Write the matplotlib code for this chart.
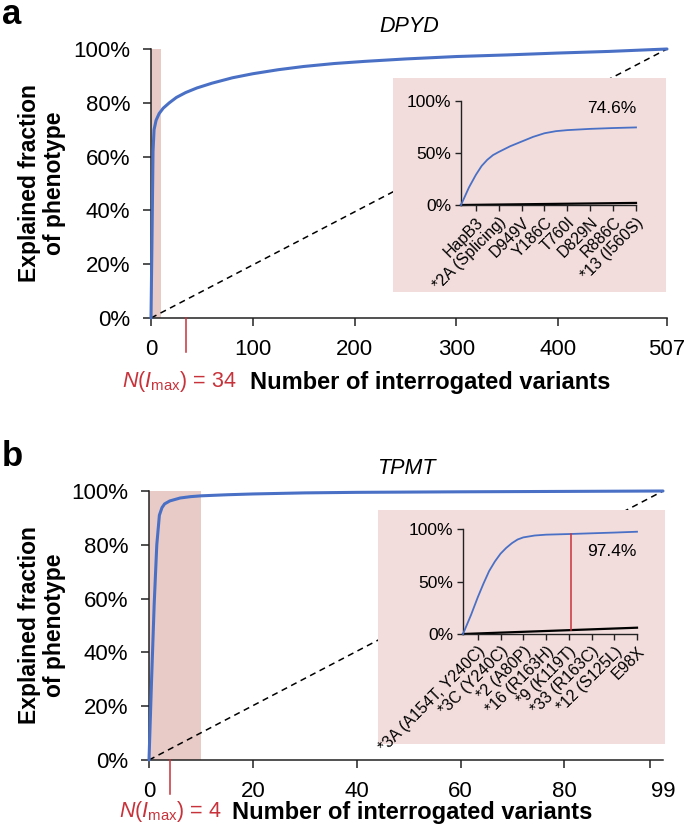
import matplotlib
matplotlib.use("Agg")
import matplotlib.pyplot as plt
import numpy as np

plt.rcParams['font.family'] = ['Liberation Sans', 'DejaVu Sans']
plt.rcParams['mathtext.fontset'] = 'custom'
plt.rcParams['mathtext.rm'] = 'Liberation Sans'
plt.rcParams['mathtext.it'] = 'Liberation Sans:italic'

# ---------------- data ----------------
# Panel a (DPYD)
a_x = [0, 1, 2, 3, 5, 8, 12, 18, 25, 34, 45, 60, 80, 100, 125, 150, 180, 210, 250, 300, 350, 400, 450, 507]
a_y = [0, 30, 62, 70, 73.5, 76, 78, 80, 82, 83.8, 85.5, 87.3, 89.3, 90.8, 92.3, 93.5, 94.6, 95.4, 96.3, 97.2, 97.8, 98.5, 99.1, 100]
a_total = 507
a_nimax = 34
a_shade = 10
a_xticks = [0, 100, 200, 300, 400, 507]

a_inset_labels = ["HapB3", "*2A (Splicing)", "D949V", "Y186C", "T760I", "D829N", "R886C", "*13 (I560S)"]
a_inset_x = [0.35, 0.7, 1, 1.25, 1.5, 1.75, 2, 2.5, 3, 3.5, 4, 4.5, 5, 6, 7, 8]
a_inset_y = [0, 17, 29, 37.5, 43.5, 48, 51, 56.5, 61, 65.5, 69, 71, 72, 73.2, 74.0, 74.6]
a_inset_base = [0, 2]
a_inset_final = "74.6%"

# Panel b (TPMT)
b_x = [0, 0.5, 1, 1.5, 2, 2.5, 3, 4, 6, 8, 10, 15, 20, 30, 40, 60, 80, 99]
b_y = [0, 30, 58, 80, 91, 93.8, 95.2, 96.3, 97.4, 97.9, 98.2, 98.6, 98.9, 99.3, 99.5, 99.7, 99.85, 100]
b_total = 99
b_nimax = 4
b_shade = 10
b_xticks = [0, 20, 40, 60, 80, 96.5]

b_inset_labels = ["*3A (A154T, Y240C)", "*3C (Y240C)", "*2 (A80P)", "*16 (R163H)", "*9 (K119T)",
                  "*33 (R163C)", "*12 (S125L)", "E98X"]
b_inset_x = [0.35, 0.7, 1, 1.25, 1.5, 1.75, 2, 2.25, 2.5, 2.75, 3, 3.5, 4, 5, 6, 7, 8]
b_inset_y = [0, 18, 35, 48, 60, 69, 76.5, 82, 86.5, 90, 92, 93.8, 94.6, 95.2, 95.9, 96.6, 97.4]
b_inset_base = [0, 6]
b_inset_final = "97.4%"
b_inset_marker = 5.1

# ---------------- style ----------------
BLUE = "#4a70c6"
RED = "#c8323a"
SHADE = "#e8cbc7"
BOX = "#f2dddc"
SPINE = "#222222"

W, H = 685, 832
fig = plt.figure(figsize=(W / 100, H / 100), dpi=100)


def fr(x0, y0, x1, y1):
    return [x0 / W, 1 - y1 / H, (x1 - x0) / W, (y1 - y0) / H]


def style_main(ax):
    for s in ["top", "right"]:
        ax.spines[s].set_visible(False)
    for s in ["left", "bottom"]:
        ax.spines[s].set_color(SPINE)
        ax.spines[s].set_linewidth(1.1)
    ax.tick_params(direction="out", length=6, width=1.1, color=SPINE, labelsize=16, pad=9)
    ax.set_ylim(0, 100)
    ax.set_yticks([0, 20, 40, 60, 80, 100])
    ax.set_yticklabels([f"{v}%" for v in [0, 20, 40, 60, 80, 100]])


def main_panel(rect, xs, ys, total, nimax, shade, xticks, xticklabels, title):
    ax = fig.add_axes(rect)
    ax.set_facecolor("none")
    ax.set_xlim(0, total)
    style_main(ax)
    ax.axvspan(0, shade, ymin=0, ymax=1, color=SHADE, lw=0, zorder=0)
    ax.plot([0, total], [0, 100], ls=(0, (4, 3)), color="black", lw=1.1, zorder=1)
    ax.plot(xs, ys, color=BLUE, lw=2.2, zorder=3, clip_on=False, solid_capstyle="round")
    ax.set_xticks(xticks)
    ax.set_xticklabels(xticklabels)
    ax.plot([nimax, nimax], [0, -12.5], color=RED, lw=1.1, clip_on=False, zorder=4)
    ax.set_title(title, fontsize=15.5, style="italic", pad=12)
    return ax


def inset_panel(box_rect, ax_rect, labels, xs, ys, base, marker=None):
    bx = fig.add_axes(box_rect)
    bx.set_facecolor(BOX)
    bx.set_xticks([])
    bx.set_yticks([])
    for s in bx.spines.values():
        s.set_visible(False)
    ia = fig.add_axes(ax_rect)
    ia.set_facecolor("none")
    for s in ["top", "right"]:
        ia.spines[s].set_visible(False)
    for s in ["left", "bottom"]:
        ia.spines[s].set_color(SPINE)
        ia.spines[s].set_linewidth(1.0)
    ia.set_xlim(0.35, 8)
    ia.set_ylim(0, 100)
    ia.set_yticks([0, 50, 100])
    ia.set_yticklabels(["0%", "50%", "100%"])
    ia.set_xticks(np.arange(1, len(labels) + 1))
    ia.set_xticklabels(labels, rotation=45, ha="right", rotation_mode="anchor", fontsize=11.5)
    ia.tick_params(direction="out", length=4, width=1.0, color=SPINE, pad=3)
    ia.tick_params(axis="y", labelsize=12.5)
    ia.plot(xs, ys, color=BLUE, lw=1.3, clip_on=False, zorder=3)
    ia.plot([0.35, 8], base, color="black", lw=1.6, clip_on=False, zorder=2)
    if marker is not None:
        ybase = base[0] + (base[1] - base[0]) * (marker - 0.35) / (8 - 0.35)
        ytop = np.interp(marker, xs, ys)
        ia.plot([marker, marker], [ybase, ytop], color=RED, lw=1.1, zorder=4)
    return ia


# ---------------- panel a ----------------
axa = main_panel(fr(151, 49, 667, 318), a_x, a_y, a_total, a_nimax, a_shade,
                 a_xticks, [str(t) for t in a_xticks], "DPYD")
ia = inset_panel(fr(393, 78, 666, 292), fr(461, 101, 636, 205), a_inset_labels,
                 a_inset_x, a_inset_y, a_inset_base)
ia.text(8, a_inset_y[-1] + 11, a_inset_final, ha="right", va="bottom", fontsize=12.5)

# ---------------- panel b ----------------
axb = main_panel(fr(149, 491, 663, 760), b_x, b_y, b_total, b_nimax, b_shade,
                 b_xticks, ["0", "20", "40", "60", "80", ""], "TPMT")
axb.set_xticks([b_total], minor=True)
axb.set_xticklabels([str(b_total)], minor=True)
axb.tick_params(axis="x", which="minor", length=0, labelsize=16, pad=15)
ib = inset_panel(fr(378, 510, 665, 744), fr(463, 529, 637, 634), b_inset_labels,
                 b_inset_x, b_inset_y, b_inset_base, marker=b_inset_marker)
ib.text(8, b_inset_y[-1] - 12, b_inset_final, ha="right", va="top", fontsize=12.5)

# ---------------- labels ----------------
for (ycen, nimax, red_right, blk_left, ylab_y) in [(382, a_nimax, 237, 250, 183),
                                                    (812, b_nimax, 222, 232, 625)]:
    fig.text(red_right / W, 1 - ycen / H, r"$N(I_{\mathrm{max}})$ = " + str(nimax), color=RED,
             fontsize=15.5, ha="right", va="center")
    fig.text(blk_left / W, 1 - ycen / H, "Number of interrogated variants", fontsize=17,
             fontweight="bold", ha="left", va="center")
    fig.text(42 / W, 1 - ylab_y / H, "Explained fraction\nof phenotype", fontsize=16.5,
             fontweight="bold", rotation=90, ha="center", va="center", multialignment="center",
             linespacing=1.1)

fig.text(2 / W, 1 - 24 / H, "a", fontsize=25, fontweight="bold", ha="left", va="baseline")
fig.text(2 / W, 1 - 466 / H, "b", fontsize=25, fontweight="bold", ha="left", va="baseline")

fig.savefig("out.png", dpi=100)
